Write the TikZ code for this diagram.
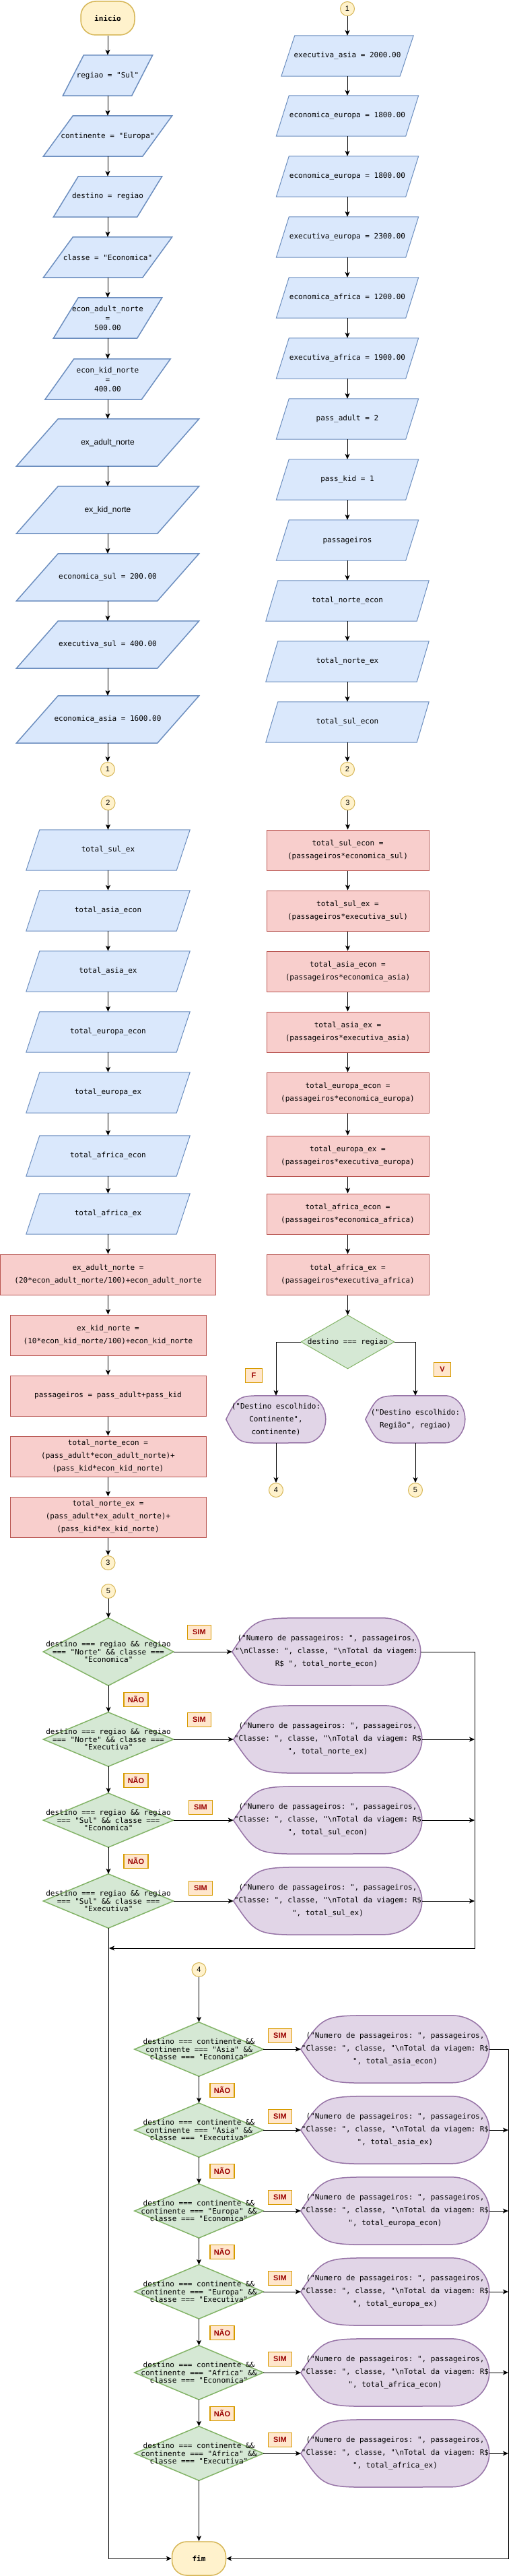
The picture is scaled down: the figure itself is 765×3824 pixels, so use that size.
\documentclass[tikz,border=0pt]{standalone}
\usepackage{fontspec}
\setmonofont{DejaVu Sans Mono}
\setsansfont{Liberation Sans}
\usetikzlibrary{arrows.meta,backgrounds}
\definecolor{sky}{HTML}{DAE8FC}
\definecolor{skyline}{HTML}{6C8EBF}
\definecolor{rose}{HTML}{F8CECC}
\definecolor{roseline}{HTML}{B85450}
\definecolor{mint}{HTML}{D5E8D4}
\definecolor{mintline}{HTML}{82B366}
\definecolor{lilac}{HTML}{E1D5E7}
\definecolor{lilacline}{HTML}{9673A6}
\definecolor{cream}{HTML}{FFF2CC}
\definecolor{creamline}{HTML}{D6B656}
\definecolor{peach}{HTML}{FFE6CC}
\definecolor{peachline}{HTML}{D79B00}
\definecolor{maroon}{HTML}{990000}
\begin{document}
\begin{tikzpicture}[x=1pt,y=-1pt,font=\fontsize{11}{19}\selectfont\ttfamily,
  term/.style={rectangle,rounded corners=22pt,draw=creamline,fill=cream,line width=1.5pt,minimum width=80pt,minimum height=50pt,font=\fontsize{11}{13}\selectfont\ttfamily\bfseries},
  txt/.style={rectangle,inner sep=0pt,align=center},
  dia/.style={txt,font=\fontsize{11}{11.5}\selectfont\ttfamily},
  assign/.style={txt,draw=roseline,fill=rose,line width=1pt,minimum height=60pt},
  conn/.style={circle,draw=creamline,fill=cream,line width=1pt,minimum size=21pt,inner sep=0pt,font=\fontsize{11}{13}\selectfont\sffamily},
  tag/.style={draw=peachline,fill=peach,line width=1.5pt,text=maroon,minimum width=35pt,minimum height=21pt,inner sep=0pt,font=\fontsize{11}{13}\selectfont\sffamily\bfseries},
  ar/.style={-{Stealth[length=8pt,width=7pt,inset=2pt]},line width=1pt},
  para/.style={draw=skyline,fill=sky,line width=#1},
  rhomb/.style={draw=mintline,fill=mint,line width=#1},
  shown/.style={draw=lilacline,fill=lilac,line width=1.5pt}]
\useasboundingbox (0,0) rectangle (765,3824);

% column 1: entradas
\node[term] (start) at (160,27) {inicio};
\node[txt,minimum width=102,minimum height=60] (p1) at (160,112) {regiao = "Sul"};
\node[txt,minimum width=147,minimum height=60] (p2) at (160,202) {continente = "Europa"};
\node[txt,minimum width=124,minimum height=60] (p3) at (160,292) {destino = regiao};
\node[txt,minimum width=147,minimum height=60] (p4) at (160,382) {classe = "Economica"};
\node[txt,minimum width=124,minimum height=60,font=\fontsize{11}{14}\selectfont\ttfamily] (p5) at (160,472) {econ\_adult\_norte\\=\\500.00};
\node[txt,minimum width=143,minimum height=60,font=\fontsize{11}{14}\selectfont\ttfamily] (p6) at (160,563) {econ\_kid\_norte\\=\\400.00};
\node[txt,minimum width=209,minimum height=70,font=\fontsize{12}{14}\selectfont\sffamily] (p7) at (160,657) {ex\_adult\_norte};
\node[txt,minimum width=209,minimum height=70,font=\fontsize{12}{14}\selectfont\sffamily] (p8) at (160,757) {ex\_kid\_norte};
\node[txt,minimum width=209,minimum height=70] (p9) at (160,857) {economica\_sul = 200.00};
\node[txt,minimum width=209,minimum height=70] (p10) at (160,957) {executiva\_sul = 400.00};
\node[txt,minimum width=209,minimum height=70] (p11) at (160,1068) {economica\_asia = 1600.00};
\node[conn] (c1a) at (160,1142) {1};

% column 2
\node[conn] (c1b) at (516,13) {1};
\node[txt,minimum width=176,minimum height=60] (q1) at (516,83) {executiva\_asia = 2000.00};
\foreach \nm/\y/\t in {q2/172/economica\_europa = 1800.00,q3/262/economica\_europa = 1800.00,q4/352/executiva\_europa = 2300.00,q5/442/economica\_africa = 1200.00,q6/532/executiva\_africa = 1900.00,q7/622/pass\_adult = 2,q8/712/pass\_kid = 1,q9/802/passageiros}
  \node[txt,minimum width=192,minimum height=60] (\nm) at (516,\y) {\t};
\foreach \nm/\y/\t in {q10/892/total\_norte\_econ,q11/982/total\_norte\_ex,q12/1072/total\_sul\_econ}
  \node[txt,minimum width=224,minimum height=60] (\nm) at (516,\y) {\t};
\node[conn] (c2a) at (516,1142) {2};

% column 3
\node[conn] (c2b) at (160.5,1192) {2};
\foreach \nm/\y/\t in {m1/1262/total\_sul\_ex,m2/1352/total\_asia\_econ,m3/1442/total\_asia\_ex,m4/1532/total\_europa\_econ,m5/1622/total\_europa\_ex,m6/1716/total\_africa\_econ,m7/1802/total\_africa\_ex}
  \node[txt,minimum width=223,minimum height=60] (\nm) at (160.5,\y) {\t};
\node[assign,minimum width=320] (r1) at (160.5,1892) {ex\_adult\_norte =\\(20*econ\_adult\_norte/100)+econ\_adult\_norte};
\node[assign,minimum width=291] (r2) at (160.5,1982) {ex\_kid\_norte =\\(10*econ\_kid\_norte/100)+econ\_kid\_norte};
\node[assign,minimum width=291] (r3) at (160.5,2072) {passageiros = pass\_adult+pass\_kid};
\node[assign,minimum width=291] (r4) at (160.5,2162) {total\_norte\_econ =\\(pass\_adult*econ\_adult\_norte)+\\(pass\_kid*econ\_kid\_norte)};
\node[assign,minimum width=291] (r5) at (160.5,2252) {total\_norte\_ex =\\(pass\_adult*ex\_adult\_norte)+\\(pass\_kid*ex\_kid\_norte)};
\node[conn] (c3a) at (160.5,2320) {3};

% column 4
\node[conn] (c3b) at (516.5,1192) {3};
\foreach \nm/\y/\t in {n1/1262/total\_sul\_econ =\\(passageiros*economica\_sul),n2/1352/total\_sul\_ex =\\(passageiros*executiva\_sul),n3/1442/total\_asia\_econ =\\(passageiros*economica\_asia),n4/1532/total\_asia\_ex =\\(passageiros*executiva\_asia),n5/1622/total\_europa\_econ =\\(passageiros*economica\_europa),n6/1716/total\_europa\_ex =\\(passageiros*executiva\_europa),n7/1802/total\_africa\_econ =\\(passageiros*economica\_africa),n8/1892/total\_africa\_ex =\\(passageiros*executiva\_africa)}
  \node[assign,minimum width=241] (\nm) at (516.5,\y) {\t};
\node[txt,minimum width=138,minimum height=79] (dd) at (516.5,1992) {destino === regiao};
\node[txt,minimum width=148,minimum height=70] (sF) at (410,2107) {("Destino escolhido:\\Continente",\\continente)};
\node[txt,minimum width=148,minimum height=70] (sV) at (617,2107) {("Destino escolhido:\\Região", regiao)};
\node[tag,minimum width=25pt] (tF) at (377,2042) {F};
\node[tag,minimum width=25pt] (tV) at (657,2033) {V};
\node[conn] (c4a) at (410,2212) {4};
\node[conn] (c5a) at (617,2212) {5};

% regiao
\node[conn] (c5b) at (161,2362) {5};
\node[dia,minimum width=193,minimum height=100] (d1) at (161,2452) {destino === regiao \&\& regiao\\=== "Norte" \&\& classe ===\\"Economica"};
\node[dia,minimum width=193,minimum height=80] (d2) at (161,2582) {destino === regiao \&\& regiao\\=== "Norte" \&\& classe ===\\"Executiva"};
\node[dia,minimum width=193,minimum height=80] (d3) at (161,2702) {destino === regiao \&\& regiao\\=== "Sul" \&\& classe ===\\"Economica"};
\node[dia,minimum width=193,minimum height=80] (d4) at (161,2822) {destino === regiao \&\& regiao\\=== "Sul" \&\& classe ===\\"Executiva"};
\node[txt,minimum width=280,minimum height=100] (s1) at (485,2452) {("Numero de passageiros: ", passageiros,\\"\textbackslash nClasse: ", classe, "\textbackslash nTotal da viagem:\\R\$ ", total\_norte\_econ)};
\node[txt,minimum width=280,minimum height=100] (s2) at (487,2582) {("Numero de passageiros: ", passageiros,\\"Classe: ", classe, "\textbackslash nTotal da viagem: R\$\\", total\_norte\_ex)};
\node[txt,minimum width=280,minimum height=100] (s3) at (487,2702) {("Numero de passageiros: ", passageiros,\\"Classe: ", classe, "\textbackslash nTotal da viagem: R\$\\", total\_sul\_econ)};
\node[txt,minimum width=280,minimum height=100] (s4) at (487,2822) {("Numero de passageiros: ", passageiros,\\"Classe: ", classe, "\textbackslash nTotal da viagem: R\$\\", total\_sul\_ex)};
\foreach \x/\y in {296/2423,296/2553,298/2683,298/2803}
  \node[tag] (sim\y) at (\x,\y) {SIM};
\foreach \y in {2523,2643,2763}
  \node[tag,minimum width=36pt] (nao\y) at (202,\y) {NÃO};
\coordinate (jA) at (705,2892);
\coordinate (jL) at (162,2892);

% continente
\node[conn] (c4b) at (295.5,2924) {4};
\foreach \i/\c/\k/\t in {5/Asia/Economica/asia\_econ,6/Asia/Executiva/asia\_ex,7/Europa/Economica/europa\_econ,8/Europa/Executiva/europa\_ex,9/Africa/Economica/africa\_econ,10/Africa/Executiva/africa\_ex}{
  \pgfmathsetmacro\y{3042+120*(\i-5)}
  \node[dia,minimum width=191,minimum height=80] (d\i) at (295.5,\y) {destino === continente \&\&\\continente === "\c" \&\&\\classe === "\k"};
  \node[txt,minimum width=280,minimum height=100] (s\i) at (587,\y) {("Numero de passageiros: ", passageiros,\\"Classe: ", classe, "\textbackslash nTotal da viagem: R\$\\", total\_\t)};
  \node[tag] (simb\i) at (416,\y-20) {SIM};
}
\foreach \k in {0,...,4}
  \node[tag,minimum width=36pt] (naob\k) at (330,3103+120*\k) {NÃO};
\node[term] (fim) at (295.5,3798) {fim};
\coordinate (jB) at (755,3798);

% setas
\foreach \a/\b in {start/p1,p1/p2,p2/p3,p3/p4,p4/p5,p5/p6,p6/p7,p7/p8,p8/p9,p9/p10,p10/p11,p11/c1a,
  c1b/q1,q1/q2,q2/q3,q3/q4,q4/q5,q5/q6,q6/q7,q7/q8,q8/q9,q9/q10,q10/q11,q11/q12,q12/c2a,
  c2b/m1,m1/m2,m2/m3,m3/m4,m4/m5,m5/m6,m6/m7,m7/r1,r1/r2,r2/r3,r3/r4,r4/r5,r5/c3a,
  c3b/n1,n1/n2,n2/n3,n3/n4,n4/n5,n5/n6,n6/n7,n7/n8,n8/dd,sF/c4a,sV/c5a,
  c5b/d1,d1/d2,d2/d3,d3/d4,c4b/d5,d5/d6,d6/d7,d7/d8,d8/d9,d9/d10,d10/fim}
  \draw[ar] (\a) -- (\b);
\draw[ar] (dd.west) -| (sF.north);
\draw[ar] (dd.east) -| (sV.north);
\foreach \i in {1,...,10}
  \draw[ar] (d\i.east) -- (s\i.west);
\draw[ar] (s1.east) -| (jA) -- (jL);
\foreach \i in {2,3,4}
  \draw[ar] (s\i.east) -- (s\i.east -| jA);
\draw[ar] (d4.south) |- (fim.west);
\draw[ar] (s5.east) -| (jB) -- (fim.east);
\foreach \i in {6,...,10}
  \draw[ar] (s\i.east) -- (s\i.east -| jB);

\begin{scope}[on background layer]
  \foreach \n/\s in {p1/15.5pt,p2/22pt,p3/18.5pt,p4/22pt,p5/18.5pt,p6/21.5pt,p7/31pt,p8/31pt,p9/31pt,p10/31pt,p11/31pt}
    \draw[para=1.5pt] ([xshift=\s]\n.north west) -- ([xshift=\s]\n.north east) -- ([xshift=-\s]\n.south east) -- ([xshift=-\s]\n.south west) -- cycle;
  \foreach \n/\s in {q1/10pt,q2/9.5pt,q3/9.5pt,q4/9.5pt,q5/9.5pt,q6/9.5pt,q7/9.5pt,q8/9.5pt,q9/9.5pt,q10/9pt,q11/9pt,q12/9pt,m1/10pt,m2/10pt,m3/10pt,m4/10pt,m5/10pt,m6/10pt,m7/10pt}
    \draw[para=1pt] ([xshift=\s]\n.north west) -- ([xshift=\s]\n.north east) -- ([xshift=-\s]\n.south east) -- ([xshift=-\s]\n.south west) -- cycle;
  \foreach \n/\w in {dd/1pt,d1/1.5pt,d2/1.5pt,d3/1.5pt,d4/1.5pt,d5/1.5pt,d6/1.5pt,d7/1.5pt,d8/1.5pt,d9/1.5pt,d10/1.5pt}
    \draw[rhomb=\w] (\n.north) -- (\n.east) -- (\n.south) -- (\n.west) -- cycle;
  \foreach \i in {1,...,10}
    \draw[shown] (s\i.west) .. controls ([xshift=33.6pt]s\i.north west) .. ([xshift=112pt]s\i.north west) -- ([xshift=224pt]s\i.north west) arc[start angle=90,end angle=-90,x radius=56pt,y radius=50pt] -- ([xshift=112pt]s\i.south west) .. controls ([xshift=33.6pt]s\i.south west) .. (s\i.west) -- cycle;
  \foreach \n in {sF,sV}
    \draw[shown] (\n.west) .. controls ([xshift=17.8pt]\n.north west) .. ([xshift=59.2pt]\n.north west) -- ([xshift=118.4pt]\n.north west) arc[start angle=90,end angle=-90,x radius=29.6pt,y radius=35pt] -- ([xshift=59.2pt]\n.south west) .. controls ([xshift=17.8pt]\n.south west) .. (\n.west) -- cycle;
\end{scope}
\end{tikzpicture}
\end{document}
